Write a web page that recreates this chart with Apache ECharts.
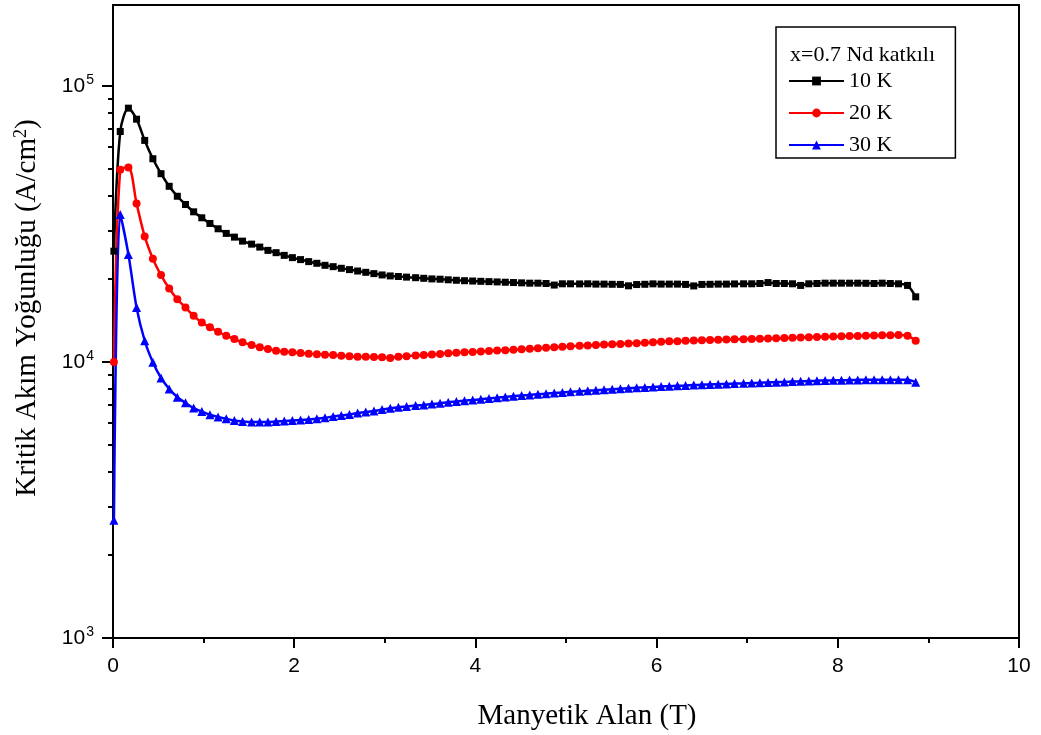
<!DOCTYPE html>
<html>
<head>
<meta charset="utf-8">
<script src="https://cdn.jsdelivr.net/npm/echarts@6/dist/echarts.min.js"></script>
<style>
html,body{margin:0;padding:0;background:#fff;}
#chart{width:1041px;height:735px;}
</style>
</head>
<body>
<div id="chart"></div>
<script>
// Magnetic field (T)
const fieldT = [0.01,
  0.08,0.17,0.26,0.35,0.44,0.53,0.62,0.71,0.80,0.89,
  0.98,1.07,1.16,1.25,1.34,1.43,1.53,1.62,1.71,1.80,
  1.89,1.98,2.07,2.16,2.25,2.34,2.43,2.52,2.61,2.70,
  2.79,2.88,2.97,3.06,3.15,3.24,3.34,3.43,3.52,3.61,
  3.70,3.79,3.88,3.97,4.06,4.15,4.24,4.33,4.42,4.51,
  4.60,4.69,4.78,4.87,4.96,5.05,5.15,5.24,5.33,5.42,
  5.51,5.60,5.69,5.78,5.87,5.96,6.05,6.14,6.23,6.32,
  6.41,6.50,6.59,6.68,6.77,6.86,6.96,7.05,7.14,7.23,
  7.32,7.41,7.50,7.59,7.68,7.77,7.86,7.95,8.04,8.13,
  8.22,8.31,8.40,8.49,8.58,8.67,8.77,8.86];
// Critical current density (A/cm^2)
const jc10K = [25200,
  68400,83100,75800,63500,54500,48100,43300,39850,37200,35000,
  33300,31760,30380,29230,28340,27410,26730,26080,25370,24890,
  24340,23880,23490,23100,22780,22400,22150,21850,21610,21360,
  21130,20900,20670,20500,20400,20300,20200,20100,20000,19950,
  19850,19770,19700,19650,19600,19550,19500,19450,19400,19350,
  19300,19300,19250,19000,19200,19200,19180,19200,19150,19150,
  19120,19100,18880,19080,19120,19190,19150,19150,19150,19100,
  18860,19100,19120,19150,19150,19180,19200,19200,19250,19400,
  19250,19250,19200,18940,19200,19250,19300,19300,19300,19300,
  19300,19280,19250,19300,19250,19200,18940,17220];
const jc20K = [10000,
  49760,50700,37500,28500,23680,20640,18450,16880,15760,14700,
  13910,13350,12870,12450,12110,11780,11520,11300,11140,10990,
  10900,10840,10780,10720,10660,10630,10600,10540,10490,10450,
  10450,10420,10400,10340,10450,10500,10550,10600,10650,10700,
  10750,10800,10840,10880,10920,10960,11000,11040,11080,11130,
  11170,11220,11260,11300,11350,11400,11450,11480,11520,11560,
  11600,11630,11670,11700,11740,11780,11830,11880,11900,11930,
  11960,11990,12020,12040,12060,12080,12100,12120,12140,12160,
  12190,12210,12240,12270,12300,12320,12340,12370,12390,12410,
  12430,12450,12470,12490,12500,12520,12450,11940];
const jc30K = [2670,
  34220,24540,15760,11940,9975,8755,7990,7458,7112,6807,
  6616,6437,6316,6228,6138,6088,6057,6057,6057,6088,
  6109,6138,6159,6190,6228,6280,6348,6400,6453,6529,
  6584,6638,6728,6800,6860,6900,6950,6990,7040,7090,
  7150,7190,7240,7280,7330,7380,7420,7470,7520,7560,
  7600,7640,7680,7720,7760,7800,7830,7870,7900,7940,
  7970,8000,8030,8060,8090,8120,8150,8170,8200,8220,
  8250,8270,8290,8310,8330,8350,8370,8390,8410,8430,
  8450,8470,8490,8510,8530,8550,8570,8580,8590,8600,
  8610,8620,8620,8630,8630,8630,8620,8450];

const seriesNames = ['10 K', '20 K', '30 K'];
const legendTitle = 'x=0.7 Nd katkılı';
const xAxisTitle = 'Manyetik Alan (T)';
const yAxisTitle = 'Kritik Akım Yoğunluğu (A/cm{sup|2})';
const yMajorTicks = [1000, 10000, 100000];
const yMinorTicks = [2000,3000,4000,5000,6000,7000,8000,9000,
                     20000,30000,40000,50000,60000,70000,80000,90000];

const pair = (ys) => fieldT.map((x, i) => [x, ys[i]]);

const chart = echarts.init(document.getElementById('chart'));
const sans = 'Liberation Sans, Arial, sans-serif';
const serif = 'Liberation Serif, Times New Roman, serif';

const option = {
  backgroundColor: '#fff',
  animation: false,
  grid: {
    left: 113, right: 22, top: 5, bottom: 97,
    show: true, borderColor: '#000', borderWidth: 2,
    containLabel: false, outerBoundsMode: 'none'
  },
  title: {
    text: legendTitle,
    left: 785, top: 39,
    textStyle: { fontFamily: serif, fontSize: 22, fontWeight: 'normal', color: '#000' }
  },
  legend: {
    data: seriesNames,
    orient: 'vertical',
    left: 776, top: 27,
    padding: [43, 63, 2, 12],
    itemWidth: 55, itemHeight: 11, itemGap: 10,
    borderColor: '#000', borderWidth: 1.5,
    textStyle: { fontFamily: serif, fontSize: 22, color: '#000' }
  },
  xAxis: {
    type: 'value', min: 0, max: 10, interval: 2,
    name: xAxisTitle, nameLocation: 'middle', nameGap: 64,
    nameTextStyle: { fontFamily: serif, fontSize: 29, color: '#000', padding: [0, 0, 0, 42] },
    axisLine: { lineStyle: { color: '#000', width: 2 } },
    axisTick: { inside: false, length: 10, lineStyle: { color: '#000', width: 2 } },
    minorTick: { show: true, splitNumber: 2, length: 5, lineStyle: { color: '#000', width: 2 } },
    axisLabel: { fontFamily: sans, fontSize: 21, color: '#000', margin: 18 },
    splitLine: { show: false }
  },
  yAxis: [{
    type: 'log', logBase: 10, min: 1000, max: 196500,
    name: yAxisTitle, nameLocation: 'middle', nameGap: 70, nameRotate: 90,
    nameTextStyle: {
      fontFamily: serif, fontSize: 29, color: '#000', padding: [0, 0, 0, 27],
      rich: { sup: { fontFamily: serif, fontSize: 18, color: '#000', padding: [0, 0, 13, 0] } }
    },
    axisLine: { lineStyle: { color: '#000', width: 2 } },
    axisTick: { inside: false, length: 11, customValues: yMajorTicks, lineStyle: { color: '#000', width: 2 } },
    axisLabel: {
      customValues: yMajorTicks, margin: 19,
      fontFamily: sans, fontSize: 21, color: '#000',
      formatter: (v) => '10{sup|' + Math.round(Math.log10(v)) + '}',
      rich: { sup: { fontFamily: sans, fontSize: 14, color: '#000', padding: [0, 0, 12, 1] } }
    },
    splitLine: { show: false }
  }, {
    type: 'log', logBase: 10, min: 1000, max: 196500, position: 'left',
    axisLine: { show: false },
    axisTick: { inside: false, length: 5, customValues: yMinorTicks, lineStyle: { color: '#000', width: 2 } },
    axisLabel: { show: false },
    splitLine: { show: false }
  }],
  series: [
    { name: seriesNames[0], type: 'line', data: pair(jc10K), smooth: 0.3,
      symbol: 'rect', symbolSize: 7, color: '#000000',
      lineStyle: { width: 2.5, color: '#000000' }, itemStyle: { color: '#000000' } },
    { name: seriesNames[1], type: 'line', data: pair(jc20K), smooth: 0.3,
      symbol: 'circle', symbolSize: 8, color: '#ff0000',
      lineStyle: { width: 2.5, color: '#ff0000' }, itemStyle: { color: '#ff0000' } },
    { name: seriesNames[2], type: 'line', data: pair(jc30K), smooth: 0.3,
      symbol: 'triangle', symbolSize: 9, color: '#0000ff',
      lineStyle: { width: 2.5, color: '#0000ff' }, itemStyle: { color: '#0000ff' } }
  ]
};
chart.setOption(option);
</script>
</body>
</html>
